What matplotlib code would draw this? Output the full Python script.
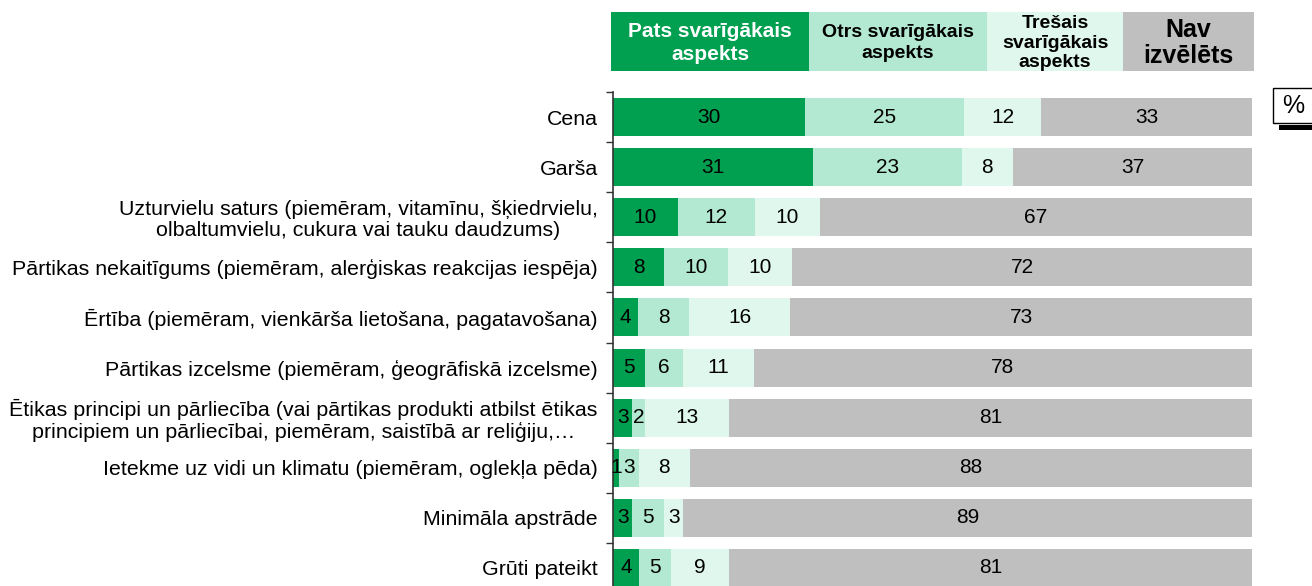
import matplotlib
matplotlib.use("Agg")
import matplotlib.pyplot as plt
from matplotlib.patches import Rectangle
import numpy as np

categories = [
    "Cena",
    "Garša",
    "Uzturvielu saturs (piemēram, vitamīnu, šķiedrvielu,\nolbaltumvielu, cukura vai tauku daudzums)",
    "Pārtikas nekaitīgums (piemēram, alerģiskas reakcijas iespēja)",
    "Ērtība (piemēram, vienkārša lietošana, pagatavošana)",
    "Pārtikas izcelsme (piemēram, ģeogrāfiskā izcelsme)",
    "Ētikas principi un pārliecība (vai pārtikas produkti atbilst ētikas\nprincipiem un pārliecībai, piemēram, saistībā ar reliģiju,…",
    "Ietekme uz vidi un klimatu (piemēram, oglekļa pēda)",
    "Minimāla apstrāde",
    "Grūti pateikt",
]
first = [30, 31, 10, 8, 4, 5, 3, 1, 3, 4]
second = [25, 23, 12, 10, 8, 6, 2, 3, 5, 5]
third = [12, 8, 10, 10, 16, 11, 13, 8, 3, 9]
none = [33, 37, 67, 72, 73, 78, 81, 88, 89, 81]

series_names = ["Pats svarīgākais\naspekts", "Otrs svarīgākais\naspekts",
                "Trešais\nsvarīgākais\naspekts", "Nav\nizvēlēts"]
colors = ["#00A050", "#B3E8D2", "#DFF7EC", "#BFBFBF"]

plt.rcParams['font.family'] = ['Liberation Sans', 'DejaVu Sans']

fig = plt.figure(figsize=(13.12, 5.86), dpi=100)
ax = fig.add_axes([613 / 1312, 1 - 593 / 586, (1252 - 613) / 1312, 501 / 586])

data = np.array([first, second, third, none], dtype=float)
# rounded shares: stretch each row to the full 100 like the original
shares = data / data.sum(axis=0) * 100

y = np.arange(len(categories))
left = np.zeros(len(categories))
for vals, raw, col in zip(shares, data, colors):
    ax.barh(y, vals, left=left, height=0.76, color=col, edgecolor='none')
    for yi, l, v, r in zip(y, left, vals, raw):
        ax.text(l + v / 2, yi, f"{int(r)}", ha='center', va='center', fontsize=15, color='black')
    left += vals

ax.set_xlim(0, 100)
ax.set_ylim(len(categories) - 0.5, -0.5)
ax.set_yticks(y)
ax.set_yticklabels(categories, fontsize=15.4, multialignment='center', linespacing=1.1)
ax.tick_params(axis='y', length=0, pad=11)
ax.set_yticks(np.arange(-0.5, len(categories), 1), minor=True)
ax.tick_params(axis='y', which='minor', length=5, width=1, color='#333333')
ax.set_xticks([])
for s in ['top', 'right', 'bottom']:
    ax.spines[s].set_visible(False)
ax.spines['left'].set_color('#333333')
ax.spines['left'].set_linewidth(1.2)

# header boxes
edges = [611, 809, 987, 1123, 1254]
sizes = [15, 14, 14, 18]
spacing = [1.25, 1.25, 1.2, 1.08]
for i, name in enumerate(series_names):
    x0 = edges[i] / 1312
    w = (edges[i + 1] - edges[i]) / 1312
    fig.patches.append(Rectangle((x0, 1 - 71 / 586), w, 59 / 586, transform=fig.transFigure,
                                 facecolor=colors[i], edgecolor='none'))
    fig.text(x0 + w / 2, 1 - 43 / 586, name, ha='center', va='center',
             fontsize=sizes[i], fontweight='bold', color='white' if i == 0 else 'black',
             linespacing=spacing[i])

# % box
fig.patches.append(Rectangle((1279 / 1312, 1 - 130 / 586), 40 / 1312, 5 / 586, transform=fig.transFigure,
                             facecolor='black', edgecolor='none'))
fig.patches.append(Rectangle((1273 / 1312, 1 - 123 / 586), 45 / 1312, 35 / 586, transform=fig.transFigure,
                             facecolor='white', edgecolor='black', linewidth=1))
fig.text(1293 / 1312, 1 - 106 / 586, "%", ha='center', va='center', fontsize=18)

fig.savefig("out.png", dpi=100)
